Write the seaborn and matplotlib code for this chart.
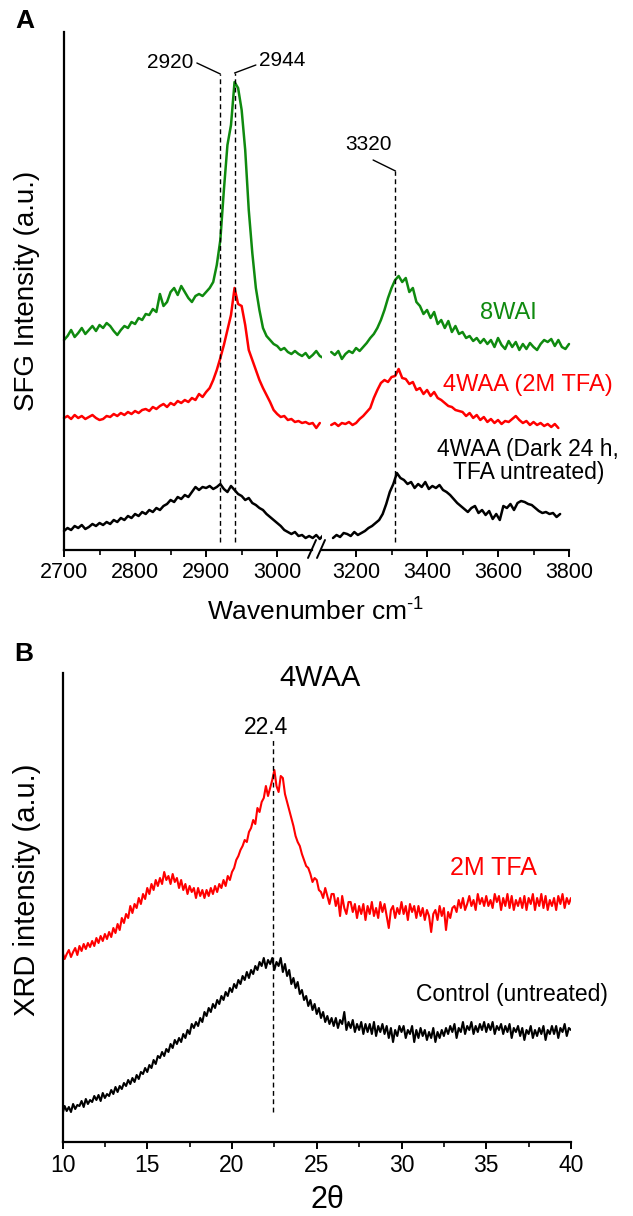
import numpy as np
import pandas as pd
import seaborn as sns
import matplotlib.pyplot as plt
from matplotlib.lines import Line2D

# ---- panel A: SFG spectra (y in arbitrary units, offset traces) ----
green_left = [210, 214, 220, 213, 217, 222, 216, 220, 224, 219,
              225, 222, 227, 224, 219, 215, 220, 224, 222, 228,
              226, 232, 230, 236, 235, 241, 238, 256, 244, 248,
              258, 262, 255, 264, 258, 252, 248, 254, 256, 254,
              258, 262, 268, 285, 310, 360, 405, 425, 468, 462,
              440, 400, 340, 297, 262, 240, 222, 214, 210, 206,
              204, 200, 202, 198, 196, 199, 196, 194, 197, 192,
              195, 199, 194, 192]
green_right = [198, 195, 199, 191, 196, 199, 197, 202, 199, 203,
               207, 212, 216, 222, 230, 240, 252, 262, 270, 274,
               268, 272, 258, 262, 248, 244, 236, 240, 232, 238,
               226, 230, 222, 229, 218, 224, 216, 218, 212, 214,
               209, 212, 207, 211, 206, 210, 203, 212, 205, 201,
               209, 203, 208, 200, 206, 201, 207, 203, 200, 206,
               210, 208, 211, 204, 210, 203, 201, 206]
red_left = [132, 134, 131, 135, 132, 134, 131, 133, 135, 132,
            130, 131, 134, 133, 136, 134, 137, 135, 138, 136,
            139, 137, 140, 141, 139, 143, 141, 144, 146, 143,
            147, 145, 149, 147, 150, 148, 152, 150, 156, 153,
            158, 162, 170, 180, 192, 205, 220, 235, 262, 246,
            244, 225, 200, 190, 180, 170, 162, 155, 148, 140,
            136, 133, 134, 130, 131, 128, 129, 127, 128, 126,
            127, 122, 127]
red_right = [125, 127, 124, 127, 126, 128, 125, 127, 131, 134,
             138, 142, 152, 160, 167, 170, 168, 173, 174, 181,
             172, 171, 166, 168, 160, 162, 156, 160, 154, 158,
             152, 150, 147, 144, 143, 140, 139, 138, 134, 137,
             132, 135, 130, 133, 128, 131, 127, 130, 126, 129,
             128, 131, 134, 130, 127, 129, 125, 128, 125, 127,
             124, 126, 123, 126, 122]
black_left = [19, 22, 20, 24, 22, 25, 21, 23, 26, 24,
              27, 25, 28, 26, 30, 28, 32, 30, 34, 32,
              36, 34, 38, 36, 40, 38, 42, 40, 44, 46,
              50, 48, 53, 51, 55, 53, 58, 63, 60, 63,
              62, 64, 61, 63, 66, 61, 58, 64, 60, 56,
              54, 50, 52, 47, 45, 42, 40, 36, 33, 30,
              27, 24, 20, 18, 16, 18, 14, 15, 12, 14,
              12, 15, 11, 15]
black_right = [12, 15, 13, 17, 16, 14, 18, 15, 17, 19,
               22, 24, 27, 30, 36, 46, 58, 66, 77, 72,
               70, 66, 68, 62, 66, 63, 68, 61, 64, 62,
               65, 60, 58, 55, 51, 47, 44, 41, 38, 42,
               44, 37, 40, 35, 39, 31, 36, 30, 44, 42,
               46, 40, 47, 49, 48, 46, 45, 42, 39, 37,
               38, 36, 37, 33, 36]

sfg_traces = [
    ("8WAI", "#0f8a0f", 2700, 3130, green_left, green_right),
    ("4WAA (2M TFA)", "#ff0000", 2700, 3130, red_left, red_right),
    ("4WAA (Dark 24 h,\nTFA untreated)", "#000000", 2700, 3135, black_left, black_right),
]
peak_x = [2920, 2940, 3311]
peak_text = ["2920", "2944", "3320"]

# ---- panel B: XRD, 2theta from 10 to 40 in 0.125 deg steps ----
xrd_tfa = [190, 183, 188, 192, 185, 190, 194, 187,
           196, 191, 198, 193, 199, 195, 201, 196,
           204, 199, 206, 201, 208, 203, 210, 205,
           214, 209, 218, 212, 224, 219, 228, 224,
           236, 229, 238, 234, 244, 238, 248, 243,
           254, 248, 258, 252, 262, 256, 264, 258,
           270, 262, 266, 258, 268, 260, 264, 254,
           262, 252, 258, 248, 256, 250, 254, 244,
           254, 246, 252, 244, 252, 246, 254, 248,
           256, 250, 258, 254, 262, 256, 266, 262,
           270, 274, 282, 286, 292, 296, 302, 300,
           310, 314, 322, 318, 334, 330, 340, 344,
           356, 346, 354, 362, 372, 356, 350, 366,
           364, 348, 340, 332, 324, 316, 306, 300,
           296, 288, 282, 276, 274, 268, 260, 264,
           262, 252, 250, 244, 254, 246, 238, 248,
           248, 236, 244, 226, 246, 234, 228, 240,
           240, 230, 238, 224, 236, 228, 238, 222,
           236, 228, 240, 226, 234, 224, 240, 230,
           238, 226, 214, 232, 236, 224, 234, 228,
           240, 228, 236, 222, 238, 230, 236, 224,
           236, 226, 234, 222, 232, 226, 210, 228,
           232, 222, 236, 226, 234, 212, 230, 224,
           234, 236, 230, 242, 234, 244, 232, 238,
           246, 236, 242, 232, 248, 238, 244, 236,
           246, 236, 242, 234, 248, 240, 246, 232,
           244, 236, 248, 234, 246, 232, 242, 236,
           244, 234, 246, 232, 244, 238, 248, 232,
           244, 236, 248, 234, 246, 232, 242, 236,
           244, 232, 246, 238, 248, 234, 244, 238,
           244]
xrd_ctrl = [28, 36, 31, 35, 30, 38, 33, 37,
            36, 41, 35, 43, 38, 42, 40, 46,
            42, 47, 41, 49, 44, 48, 46, 52,
            48, 55, 50, 56, 53, 59, 56, 62,
            58, 64, 60, 67, 63, 70, 68, 74,
            70, 77, 74, 82, 78, 86, 84, 90,
            86, 93, 90, 98, 94, 102, 98, 104,
            100, 108, 104, 112, 108, 118, 114, 120,
            116, 124, 120, 130, 126, 134, 130, 138,
            134, 142, 138, 146, 142, 150, 146, 154,
            150, 158, 154, 162, 158, 166, 162, 170,
            164, 172, 168, 176, 172, 180, 176, 184,
            174, 182, 178, 184, 172, 180, 176, 184,
            170, 178, 166, 172, 158, 164, 154, 160,
            148, 152, 142, 146, 136, 142, 132, 138,
            128, 134, 124, 130, 120, 126, 118, 124,
            116, 124, 114, 122, 118, 130, 112, 120,
            114, 122, 110, 118, 112, 120, 108, 118,
            110, 118, 108, 120, 106, 116, 110, 118,
            108, 116, 104, 114, 100, 112, 106, 116,
            110, 116, 104, 112, 108, 116, 100, 112,
            104, 114, 106, 112, 102, 110, 104, 114,
            100, 110, 104, 112, 106, 114, 108, 116,
            110, 118, 104, 114, 110, 120, 108, 116,
            112, 120, 108, 116, 110, 118, 112, 120,
            110, 118, 112, 120, 108, 116, 112, 118,
            108, 116, 110, 118, 104, 114, 110, 116,
            106, 114, 102, 112, 108, 116, 104, 112,
            106, 114, 108, 116, 102, 112, 108, 116,
            108, 116, 104, 114, 110, 118, 106, 114,
            112]
two_theta = np.linspace(10, 40, len(xrd_tfa))
xrd_peak = 22.4

sns.set_style("ticks")
plt.rcParams['font.family'] = ['Liberation Sans', 'DejaVu Sans']
plt.rcParams['mathtext.fontset'] = 'custom'
plt.rcParams['mathtext.rm'] = 'Liberation Sans'
plt.rcParams['mathtext.default'] = 'regular'
for k in ['text.color', 'axes.labelcolor', 'xtick.color', 'ytick.color', 'axes.edgecolor']:
    plt.rcParams[k] = 'black'

W, H = 633, 1216
fig = plt.figure(figsize=(W / 100, H / 100), dpi=100)


def box(x0, y0, x1, y1):
    return [x0 / W, 1 - y1 / H, (x1 - x0) / W, (y1 - y0) / H]


def fpt(x, y):
    return x / W, 1 - y / H


axl = fig.add_axes(box(64, 32, 312, 550))
axr = fig.add_axes(box(322, 32, 569, 550))
axb = fig.add_axes(box(62.5, 673, 571, 1142))

for name, col, x0l, x0r, yl, yr in sfg_traces:
    xl = x0l + 5 * np.arange(len(yl))
    xr = x0r + 10 * np.arange(len(yr))
    sns.lineplot(x=xl, y=yl, ax=axl, color=col, lw=1.8, estimator=None, clip_on=False)
    sns.lineplot(x=xr, y=yr, ax=axr, color=col, lw=1.8, estimator=None, clip_on=False)

axl.set_xlim(2700, 3049)
axr.set_xlim(3104, 3800)
for ax in (axl, axr):
    ax.set_ylim(0, 518)
    ax.set_yticks([])
    ax.set_xlabel('')
    ax.spines['top'].set_visible(False)
    ax.spines['right'].set_visible(False)
    ax.spines['bottom'].set_linewidth(1.6)
    ax.spines['left'].set_linewidth(1.6)
    ax.tick_params(axis='x', which='major', length=5, width=1.4, labelsize=15.5, pad=4)
    ax.tick_params(axis='x', which='minor', length=3.5, width=1.2)
axr.spines['left'].set_visible(False)
axl.set_xticks([2700, 2800, 2900, 3000])
axl.set_xticks([2750, 2850, 2950], minor=True)
axr.set_xticks([3200, 3400, 3600, 3800])
axr.set_xticks([3300, 3500, 3700], minor=True)

# peak markers
dash = (0, (3.5, 2.5))
axl.plot([peak_x[0]] * 2, [8, 476], color='k', lw=1, ls=dash)
axl.plot([peak_x[1]] * 2, [8, 477], color='k', lw=1, ls=dash)
axr.plot([peak_x[2]] * 2, [8, 379], color='k', lw=1, ls=dash)
axl.plot([2887, peak_x[0]], [487, 476], color='k', lw=1)
axl.plot([2970, peak_x[1]], [485, 477], color='k', lw=1)
axr.plot([3248, peak_x[2]], [390, 379], color='k', lw=1)
axl.text(2882, 488, peak_text[0], ha='right', va='center', fontsize=15)
axl.text(2975, 489, peak_text[1], ha='left', va='center', fontsize=15, clip_on=False)
axr.text(3234, 405, peak_text[2], ha='center', va='center', fontsize=15)

# trace labels
axr.text(3628, 237, sfg_traces[0][0], color=sfg_traces[0][1], ha='center', va='center', fontsize=17)
axr.text(3685, 165, sfg_traces[1][0], color=sfg_traces[1][1], ha='center', va='center', fontsize=17)
axr.text(3685, 89, sfg_traces[2][0], color=sfg_traces[2][1], ha='center', va='center',
         fontsize=16.5, linespacing=1.05)

# axis break marks
for xa, xb in [(308, 316), (317, 325)]:
    fig.add_artist(Line2D([xa / W, xb / W], [1 - 558 / H, 1 - 540 / H], color='k', lw=1.4))

fig.text(*fpt(25, 21), 'A', fontsize=19, weight='bold', ha='center', va='center')
fig.text(*fpt(316, 612), 'Wavenumber cm$^{\\text{-1}}$', fontsize=19, ha='center', va='center')
fig.text(*fpt(27, 291), 'SFG Intensity (a.u.)', fontsize=20, rotation=90, ha='center', va='center')

# ---- panel B ----
df = pd.DataFrame({'two_theta': np.concatenate([two_theta, two_theta]),
                   'intensity': xrd_tfa + xrd_ctrl,
                   'sample': ['2M TFA'] * len(two_theta) + ['Control (untreated)'] * len(two_theta)})
sns.lineplot(data=df, x='two_theta', y='intensity', hue='sample',
             palette={'2M TFA': '#ff0000', 'Control (untreated)': '#000000'},
             ax=axb, lw=1.5, estimator=None, legend=False)
axb.plot([xrd_peak] * 2, [30, 405], color='k', lw=1, ls=dash)
axb.set_xlim(10, 40)
axb.set_ylim(0, 469)
axb.set_yticks([])
axb.set_xticks(np.arange(10, 41, 5))
axb.set_xticks(np.arange(12.5, 40, 5), minor=True)
axb.set_xlabel('')
axb.set_ylabel('')
axb.spines['top'].set_visible(False)
axb.spines['right'].set_visible(False)
axb.spines['bottom'].set_linewidth(1.6)
axb.spines['left'].set_linewidth(1.6)
axb.tick_params(axis='x', which='major', length=5, width=1.4, labelsize=16.5, pad=4)
axb.tick_params(axis='x', which='minor', length=3.5, width=1.2)

axb.text(22.0, 414, f'{xrd_peak}', ha='center', va='center', fontsize=16.5)
axb.text(35.4, 274, '2M TFA', color='#ff0000', ha='center', va='center', fontsize=18)
axb.text(36.5, 147, 'Control (untreated)', ha='center', va='center', fontsize=16.5)

fig.text(*fpt(24, 654), 'B', fontsize=19, weight='bold', ha='center', va='center')
fig.text(*fpt(320, 678), '4WAA', fontsize=21, ha='center', va='center')
fig.text(*fpt(327, 1200), '2θ', fontsize=22, ha='center', va='center')
fig.text(*fpt(27, 890), 'XRD intensity (a.u.)', fontsize=21, rotation=90, ha='center', va='center')

fig.savefig('out.png', dpi=100)
